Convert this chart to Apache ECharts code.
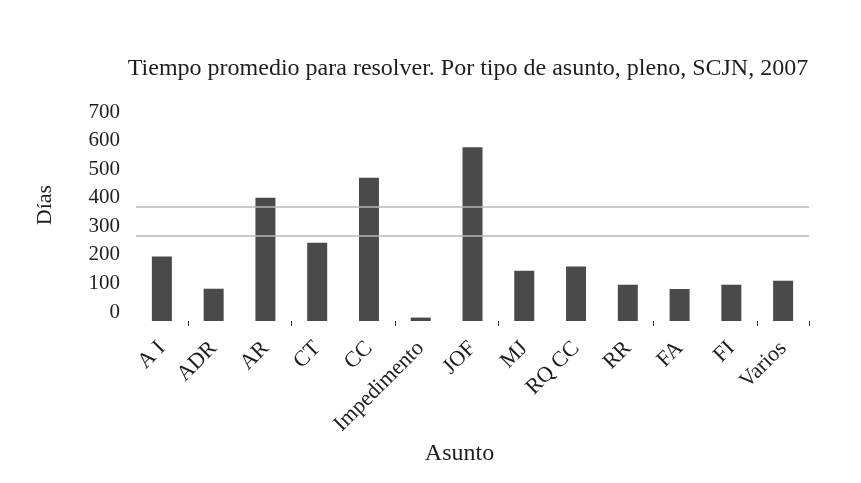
<!DOCTYPE html>
<html>
<head>
<meta charset="utf-8">
<script src="https://cdn.jsdelivr.net/npm/echarts@6/dist/echarts.min.js"></script>
<style>
  html, body { margin: 0; padding: 0; background: #fff; }
  #chart { width: 861px; height: 483px; }
</style>
</head>
<body>
<div id="chart"></div>
<script>
const categories = ['A I', 'ADR', 'AR', 'CT', 'CC', 'Impedimento', 'JOF', 'MJ', 'RQ CC', 'RR', 'FA', 'FI', 'Varios']
const days = [226, 113, 431, 274, 501, 12, 608, 176, 191, 127, 112, 127, 141]
const yTicks = [0, 100, 200, 300, 400, 500, 600, 700]
const gridValues = [300, 400]
// boundaries between categories where the original shows a small tick
const tickSlots = [1, 3, 5, 7, 10, 12]

const font = '"Liberation Serif", "DejaVu Serif", serif'
const chart = echarts.init(document.getElementById('chart'))

chart.setOption({
  backgroundColor: '#fff',
  animation: false,
  title: {
    text: 'Tiempo promedio para resolver. Por tipo de asunto, pleno, SCJN, 2007',
    left: 463,
    textAlign: 'center',
    top: 52,
    textStyle: { fontFamily: font, fontSize: 24, fontWeight: 'normal', color: '#1e1e1e' }
  },
  grid: { left: 136, top: 121, width: 673, height: 200 },
  xAxis: {
    type: 'category',
    data: categories,
    name: 'Asunto',
    nameLocation: 'middle',
    nameGap: 121,
    nameTextStyle: { fontFamily: font, fontSize: 24, color: '#1e1e1e', padding: [0, 26, 0, 0] },
    axisLine: { show: false },
    axisTick: { show: true, interval: i => tickSlots.includes(i), length: 5, lineStyle: { color: '#333' } },
    axisLabel: {
      interval: 0, rotate: 45, margin: 24,
      fontFamily: font, fontSize: 22, color: '#1e1e1e'
    }
  },
  yAxis: {
    type: 'value',
    min: 0, max: 700, interval: 100,
    name: 'Días',
    nameLocation: 'middle',
    nameGap: 80,
    nameRotate: 90,
    nameTextStyle: { fontFamily: font, fontSize: 22, color: '#1e1e1e', padding: [0, 0, 0, 32] },
    axisLine: { show: false },
    axisTick: { show: false },
    axisLabel: {
      margin: 16, fontFamily: font, fontSize: 21, color: '#1e1e1e',
      verticalAlign: 'bottom',
      lineHeight: 18,
      formatter: v => yTicks.includes(v) ? String(v) : ''
    },
    splitLine: { show: false }
  },
  series: [
    {
      type: 'bar',
      data: days,
      barWidth: 20,
      itemStyle: { color: '#4a4a4a' },
      markLine: {
        silent: true,
        symbol: 'none',
        label: { show: false },
        lineStyle: { color: '#b8b8b8', type: 'solid', width: 1.5 },
        data: gridValues.map(v => ({ yAxis: v }))
      }
    }
  ]
})
</script>
</body>
</html>
